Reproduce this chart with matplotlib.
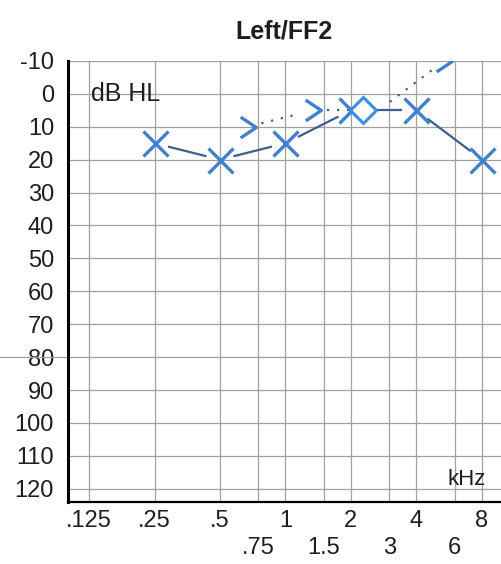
import matplotlib

matplotlib.use("Agg")

import matplotlib.pyplot as plt
import matplotlib.transforms as mtransforms
import numpy as np
from matplotlib.path import Path

# audiogram values, left ear
freq_ticks = [0.125, 0.25, 0.5, 0.75, 1, 1.5, 2, 3, 4, 6, 8]
freq_labels = [".125", ".25", ".5", "\n.75", "1", "\n1.5", "2", "\n3", "4", "\n6", "8"]
db_ticks = list(range(-10, 121, 10))

air_freq = [0.25, 0.5, 1, 2, 4, 8]
air_db = [15, 20, 15, 5, 5, 20]

bone_freq = [0.5, 1, 2, 4]
bone_db = [10, 5, 5, -10]
bone_marked = [True, True, False, True]

ff_freq = [2]
ff_db = [5]

MARK = "#3f80cf"
LINE = "#3d5f8c"
GRID = "#a0a0a0"
TEXT = "#1e1e1e"

plt.rcParams["font.family"] = ["Liberation Sans", "DejaVu Sans"]

fig = plt.figure(figsize=(5.01, 5.64), dpi=100)
ax = fig.add_axes([0.1357, 0.110, 0.8643, 0.782])

ax.set_xscale("log", base=2)
ax.set_xlim(0.1, 9.8)
ax.set_ylim(124, -10)

ax.set_xticks(freq_ticks)
ax.set_xticklabels(freq_labels, fontsize=17, color=TEXT, linespacing=1.3)
ax.xaxis.set_minor_locator(matplotlib.ticker.NullLocator())
ax.set_yticks(db_ticks)
ax.set_yticklabels([str(v) for v in db_ticks], fontsize=17, color=TEXT)
ax.tick_params(axis="both", length=0)
ax.tick_params(axis="y", pad=10)
ax.tick_params(axis="x", pad=6)

ax.grid(True, color=GRID, linewidth=0.9)
ax.set_axisbelow(True)
for side in ("top", "right"):
    ax.spines[side].set_visible(False)
ax.spines["left"].set_linewidth(2.2)
ax.spines["bottom"].set_linewidth(1.6)

# stray scan line left of the frame
ax.axhline(80, xmin=-0.16, xmax=0, clip_on=False, color=GRID, linewidth=0.9)

ax.set_title("Left/FF2", fontsize=18, fontweight="bold", color=TEXT, pad=16)
ax.text(0.053, 0.925, "dB HL", transform=ax.transAxes, fontsize=18, color=TEXT,
        va="center", ha="left")
ax.text(0.965, 0.05, "kHz", transform=ax.transAxes, fontsize=16, color=TEXT,
        va="center", ha="right")


def gapped_line(ax, xs, ys, gap, offset=None, **kw):
    """Connect points with segments that stop short of each marker."""
    trans = ax.transData if offset is None else ax.transData + offset
    pts = trans.transform(np.column_stack([xs, ys]))
    for (x0, y0), (x1, y1) in zip(pts[:-1], pts[1:]):
        d = np.hypot(x1 - x0, y1 - y0)
        if d <= 2 * gap:
            continue
        ux, uy = (x1 - x0) / d, (y1 - y0) / d
        ax.plot([x0 + ux * gap, x1 - ux * gap], [y0 + uy * gap, y1 - uy * gap],
                transform=mtransforms.IdentityTransform(), **kw)


chevron = Path([(-0.45, 0.6), (0.45, 0.0), (-0.45, -0.6)],
               [Path.MOVETO, Path.LINETO, Path.LINETO])

bone_shift = mtransforms.ScaledTranslation(20 / 72, 0, fig.dpi_scale_trans)
ff_shift = mtransforms.ScaledTranslation(9 / 72, 0, fig.dpi_scale_trans)

# air conduction
gapped_line(ax, air_freq, air_db, 15, color=LINE, linewidth=1.6, zorder=3)
ax.plot(air_freq, air_db, linestyle="none", marker="x", markersize=18,
        markeredgewidth=2.4, color=MARK, zorder=5)

# bone conduction
gapped_line(ax, bone_freq, bone_db, 14, offset=bone_shift, color=LINE,
            linewidth=1.6, linestyle=(0, (1, 3.5)), zorder=3)
bf = [f for f, m in zip(bone_freq, bone_marked) if m]
bd = [d for d, m in zip(bone_db, bone_marked) if m]
ax.plot(bf, bd, linestyle="none", marker=chevron, markersize=15,
        markeredgewidth=2.4, markerfacecolor="none", color=MARK, zorder=5,
        transform=ax.transData + bone_shift)

# free field
ax.plot(ff_freq, ff_db, linestyle="none", marker="D", markersize=13,
        markeredgewidth=2.2, markerfacecolor="white", color="#3a8fe0", zorder=6,
        transform=ax.transData + ff_shift)

fig.savefig("out.png", dpi=100)
